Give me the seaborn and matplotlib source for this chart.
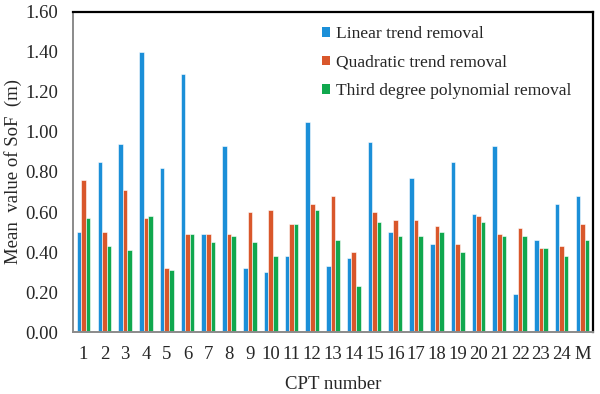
import seaborn as sns
import matplotlib.pyplot as plt
import pandas as pd
import numpy as np
from matplotlib.patches import Patch
from matplotlib.ticker import FormatStrFormatter

# CPT numbers on the x axis
cpt = [str(i) for i in range(1, 25)] + ['M']

# mean value of SoF (m) for each detrending method
linear = [0.50, 0.85, 0.94, 1.40, 0.82, 1.29, 0.49, 0.93, 0.32, 0.30,
          0.38, 1.05, 0.33, 0.37, 0.95, 0.50, 0.77, 0.44, 0.85, 0.59,
          0.93, 0.19, 0.46, 0.64, 0.68]
quadratic = [0.76, 0.50, 0.71, 0.57, 0.32, 0.49, 0.49, 0.49, 0.60, 0.61,
             0.54, 0.64, 0.68, 0.40, 0.60, 0.56, 0.56, 0.53, 0.44, 0.58,
             0.49, 0.52, 0.42, 0.43, 0.54]
third = [0.57, 0.43, 0.41, 0.58, 0.31, 0.49, 0.45, 0.48, 0.45, 0.38,
         0.54, 0.61, 0.46, 0.23, 0.55, 0.48, 0.48, 0.50, 0.40, 0.55,
         0.48, 0.48, 0.42, 0.38, 0.46]
series_names = ['Linear trend removal', 'Quadratic trend removal',
                'Third degree polynomial removal']


def plot_sof():
    df = pd.DataFrame({'CPT': cpt * 3,
                       'value': linear + quadratic + third,
                       'method': np.repeat(series_names, len(cpt))})

    sns.set_style('white')
    plt.rcParams['font.family'] = ['Liberation Serif', 'DejaVu Serif']

    fig, ax = plt.subplots(figsize=(6, 3.94), dpi=100)
    colors = ['#1B8FD8', '#D9572B', '#10A84E']
    sns.barplot(data=df, x='CPT', y='value', hue='method', palette=colors,
                saturation=1, width=0.66, edgecolor='white', linewidth=0.4,
                legend=False, ax=ax)

    ax.set_ylim(0, 1.6)
    ax.set_yticks(np.arange(0, 1.61, 0.2))
    ax.yaxis.set_major_formatter(FormatStrFormatter('%.2f'))
    ax.tick_params(axis='both', labelsize=13.5, length=0)
    ax.tick_params(axis='x', pad=10)
    ax.tick_params(axis='y', pad=11)
    ax.set_xlabel('CPT number', fontsize=13.5, labelpad=9)
    ax.set_ylabel('Mean  value of SoF  (m)', fontsize=13.5, labelpad=2)

    for side in ['top', 'right']:
        ax.spines[side].set_color('black')
        ax.spines[side].set_linewidth(1.6)
    for side in ['left', 'bottom']:
        ax.spines[side].set_color('#8a8a8a')
        ax.spines[side].set_linewidth(1.4)

    # 图例：小方块
    handles = [Patch(facecolor=c, edgecolor='none') for c in colors]
    ax.legend(handles, series_names, loc='upper left', frameon=False,
              fontsize=12.6, handlelength=0.48, handleheight=0.45,
              handletextpad=0.3, labelspacing=0.72, borderpad=0,
              borderaxespad=0, bbox_to_anchor=(0.479, 0.955))

    plt.subplots_adjust(left=0.122, right=0.988, top=0.97, bottom=0.157)
    plt.savefig('out.png')


if __name__ == '__main__':
    plot_sof()
